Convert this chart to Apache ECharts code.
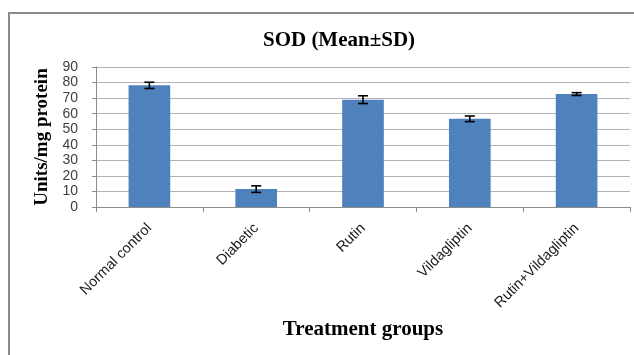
<!DOCTYPE html>
<html>
<head>
<meta charset="utf-8">
<script src="https://cdn.jsdelivr.net/npm/echarts@6/dist/echarts.min.js"></script>
<style>
html,body{margin:0;padding:0;background:#fff;}
#main{width:634px;height:355px;}
</style>
</head>
<body>
<div id="main"></div>
<script>
// groups and SOD values (mean, SD)
var groups = ['Normal control', 'Diabetic', 'Rutin', 'Vildagliptin', 'Rutin+Vildagliptin'];
var meanVals = [78.2, 11.5, 69.0, 56.7, 72.6];
var sdVals = [2.0, 2.1, 2.5, 1.8, 0.9];

var errData = [];
for (var i = 0; i < groups.length; i++) {
	errData.push([i, meanVals[i] - sdVals[i], meanVals[i] + sdVals[i]]);
}

var myChart = echarts.init(document.getElementById('main'));
var option = {
	animation: false,
	backgroundColor: '#fff',
	title: {
		text: 'SOD (Mean±SD)',
		left: 334,
		textAlign: 'center',
		top: 25,
		textStyle: {
			fontFamily: 'Liberation Serif',
			fontWeight: 'bold',
			fontSize: 21,
			color: '#000'
		}
	},
	graphic: [
		{
			type: 'rect',
			shape: {x: 9, y: 13, width: 700, height: 400},
			style: {fill: 'none', stroke: '#8a8a8a', lineWidth: 2},
			silent: true
		}
	],
	grid: {
		left: 96,
		right: 4,
		top: 67,
		bottom: 148
	},
	xAxis: {
		type: 'category',
		data: groups,
		name: 'Treatment groups',
		nameLocation: 'middle',
		nameGap: 112,
		nameTextStyle: {
			fontFamily: 'Liberation Serif',
			fontWeight: 'bold',
			fontSize: 21,
			color: '#000'
		},
		axisLine: {lineStyle: {color: '#8c8c8c', width: 1}},
		axisTick: {show: true, alignWithLabel: false, length: 5, lineStyle: {color: '#8c8c8c'}},
		axisLabel: {
			rotate: 45,
			interval: 0,
			margin: 19,
			fontFamily: 'Liberation Sans',
			fontSize: 14.5,
			color: '#1a1a1a'
		}
	},
	yAxis: {
		type: 'value',
		min: 0,
		max: 90,
		interval: 10,
		name: 'Units/mg protein',
		nameLocation: 'middle',
		nameGap: 41,
		nameTextStyle: {
			fontFamily: 'Liberation Serif',
			fontWeight: 'bold',
			fontSize: 19,
			color: '#000'
		},
		axisLine: {show: true, lineStyle: {color: '#8c8c8c', width: 1}},
		axisTick: {show: true, length: 4, lineStyle: {color: '#8c8c8c'}},
		axisLabel: {
			margin: 18,
			fontFamily: 'Liberation Sans',
			fontSize: 14,
			color: '#404040'
		},
		splitLine: {lineStyle: {color: '#b4b4b4', width: 1}}
	},
	series: [
		{
			type: 'bar',
			data: meanVals,
			barWidth: '39%',
			itemStyle: {color: '#4f81bd'}
		},
		{
			type: 'custom',
			data: errData,
			z: 10,
			renderItem: function (params, api) {
				var x = api.value(0);
				var lo = api.coord([x, api.value(1)]);
				var hi = api.coord([x, api.value(2)]);
				var w = 5;
				var st = {stroke: '#000', lineWidth: 1.6};
				return {
					type: 'group',
					children: [
						{type: 'line', shape: {x1: lo[0], y1: lo[1], x2: hi[0], y2: hi[1]}, style: st},
						{type: 'line', shape: {x1: lo[0] - w, y1: lo[1], x2: lo[0] + w, y2: lo[1]}, style: st},
						{type: 'line', shape: {x1: hi[0] - w, y1: hi[1], x2: hi[0] + w, y2: hi[1]}, style: st}
					]
				};
			}
		}
	]
};
myChart.setOption(option);
</script>
</body>
</html>
